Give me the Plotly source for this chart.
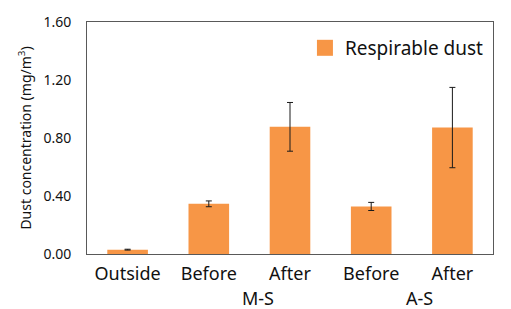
import plotly.graph_objects as go

categories = ["Outside", "Before", "After", "Before ", "After "]
tick_labels = ["Outside", "Before", "After", "Before", "After"]
group_labels = ["M-S", "A-S"]
group_pos = [1.6, 3.6]
values = [0.03, 0.346, 0.877, 0.328, 0.872]
errors = [0.003, 0.02, 0.168, 0.028, 0.277]
y_ticks = [0.0, 0.4, 0.8, 1.2, 1.6]
series_name = "Respirable dust"
bar_color = "#F79646"

font = "Noto Sans"
fig = go.Figure()
fig.add_trace(go.Bar(
    x=list(range(len(categories))), y=values, name=series_name, showlegend=False,
    marker=dict(color=bar_color, line=dict(width=0)),
    width=0.5,
    error_y=dict(type="data", array=errors, visible=True, color="#1a1a1a", thickness=1, width=3),
))
# legend proxy with larger square symbol
fig.add_trace(go.Scatter(
    x=[None], y=[None], mode="markers", name=series_name,
    marker=dict(symbol="square", size=22, color=bar_color),
))
for lab, pos in zip(group_labels, group_pos):
    fig.add_annotation(x=pos, y=0, xref="x", yref="paper", yanchor="middle", text=lab, showarrow=False,
                       yshift=-44, font=dict(family=font, size=18, color="#111"))
fig.update_layout(
    width=511, height=309, margin=dict(l=87, r=18, t=15, b=55),
    plot_bgcolor="white", paper_bgcolor="white",
    showlegend=True,
    legend=dict(x=0.99, y=0.97, xanchor="right", yanchor="top", font=dict(family=font, size=19, color="#111"),
                bgcolor="rgba(0,0,0,0)", itemsizing="trace"),
)
fig.update_xaxes(range=[-0.5, 4.5], tickvals=list(range(len(categories))), ticktext=tick_labels,
                 showline=True, mirror=True, linecolor="#595959", linewidth=1, ticks="",
                 ticklabelstandoff=3,
                 tickfont=dict(family=font, size=18, color="#111"), showgrid=False)
fig.update_yaxes(range=[0, 1.6], tickvals=y_ticks, tickformat=".2f",
                 showline=True, mirror=True, linecolor="#595959", linewidth=1, ticks="",
                 showgrid=False, zeroline=False, ticklabelstandoff=12,
                 tickfont=dict(family=font, size=14, color="#111"),
                 title=dict(text="Dust concentration (mg/m<sup>3</sup>)", font=dict(family=font, size=14, color="#111"), standoff=8))
fig.write_html("out.html")
